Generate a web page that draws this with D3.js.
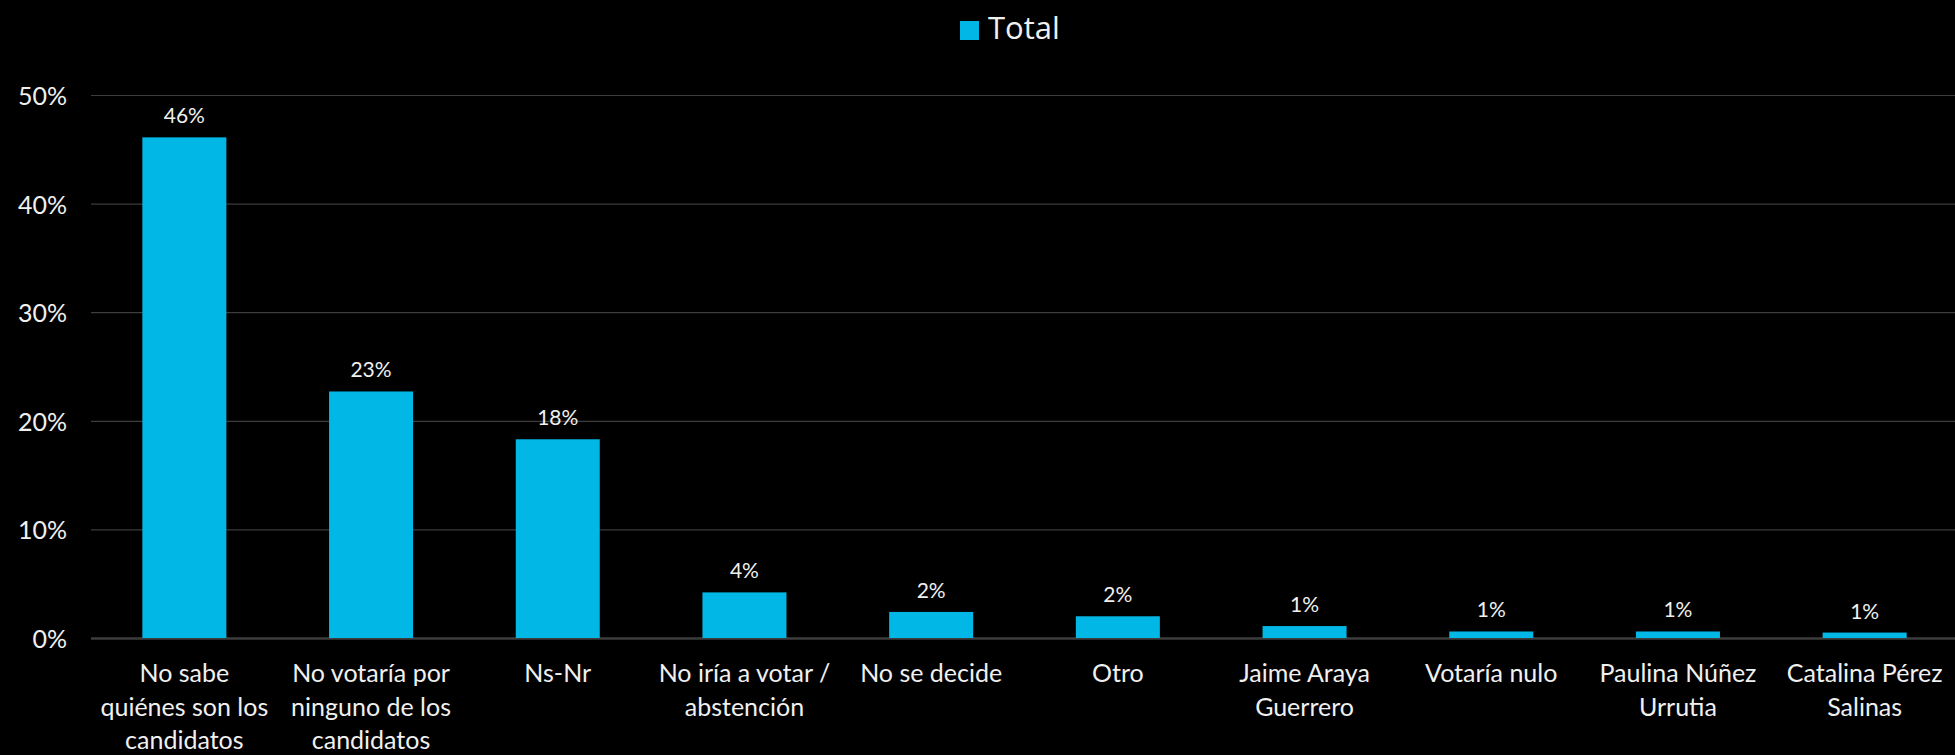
<!DOCTYPE html>
<html>
<head>
<meta charset="utf-8">
<script src="https://cdn.jsdelivr.net/npm/d3@7"></script>
<style>
  html, body { margin: 0; padding: 0; background: #000; }
  svg { display: block; }
</style>
</head>
<body>
<svg id="chart" width="1955" height="755"></svg>
<script>
// Survey answers, one bar per category ("\n" marks a line break in the axis label)
const categories = [
  "No sabe\nquiénes son los\ncandidatos",
  "No votaría por\nninguno de los\ncandidatos",
  "Ns-Nr",
  "No iría a votar /\nabstención",
  "No se decide",
  "Otro",
  "Jaime Araya\nGuerrero",
  "Votaría nulo",
  "Paulina Núñez\nUrrutia",
  "Catalina Pérez\nSalinas"
];
const seriesName = "Total";
const totalValues = [0.461, 0.227, 0.183, 0.042, 0.024, 0.020, 0.011, 0.006, 0.006, 0.005];
const yTicks = [0, 0.1, 0.2, 0.3, 0.4, 0.5];

const W = 1955, H = 755;
const margin = { left: 91, right: -3, top: 95, bottom: 117 };
const barColor = "#00b7e6";
const textColor = "#f0f0f0";
const gridColor = "#3d3d3d";

const svg = d3.select("#chart");

const x = d3.scaleBand()
  .domain(categories)
  .range([margin.left, W - margin.right])
  .paddingInner(0.55)
  .paddingOuter(0.275);

const y = d3.scaleLinear()
  .domain([0, 0.5])
  .range([H - margin.bottom, margin.top]);

const pct = v => Math.round(v * 100) + "%";

// Gridlines and y-axis labels
const yAxis = d3.axisLeft(y)
  .tickValues(yTicks)
  .tickFormat(pct)
  .tickSize(-(W - margin.right - margin.left))
  .tickPadding(24);

const gy = svg.append("g")
  .attr("transform", `translate(${margin.left},0)`)
  .call(yAxis);
gy.select(".domain").remove();
gy.selectAll(".tick line")
  .attr("stroke", gridColor)
  .attr("stroke-width", d => d === 0 ? 2.5 : 1.2);
gy.selectAll(".tick text")
  .attr("fill", textColor)
  .attr("font-family", "Lato, 'Open Sans', sans-serif")
  .attr("font-size", 25)
  .attr("dy", "0.38em");

// Bars
svg.append("g")
  .selectAll("rect")
  .data(totalValues)
  .join("rect")
  .attr("x", (d, i) => x(categories[i]))
  .attr("width", x.bandwidth())
  .attr("y", d => y(d))
  .attr("height", d => y(0) - y(d))
  .attr("fill", barColor);

// Value labels above the bars
svg.append("g")
  .selectAll("text")
  .data(totalValues)
  .join("text")
  .attr("x", (d, i) => x(categories[i]) + x.bandwidth() / 2)
  .attr("y", d => y(d) - 14)
  .attr("text-anchor", "middle")
  .attr("fill", textColor)
  .attr("font-family", "Lato, 'Open Sans', sans-serif")
  .attr("font-size", 21)
  .text(pct);

// Category labels below the baseline
const gx = svg.append("g");
categories.forEach(c => {
  const t = gx.append("text")
    .attr("x", x(c) + x.bandwidth() / 2)
    .attr("y", y(0) + 44)
    .attr("text-anchor", "middle")
    .attr("fill", textColor)
    .attr("font-family", "Lato, 'Open Sans', sans-serif")
    .attr("font-size", 25);
  c.split("\n").forEach((line, k) => {
    t.append("tspan")
      .attr("x", x(c) + x.bandwidth() / 2)
      .attr("dy", k === 0 ? 0 : 33.5)
      .text(line);
  });
});

// Legend
const legend = svg.append("g").attr("transform", "translate(960,21)");
legend.append("rect")
  .attr("width", 19)
  .attr("height", 19)
  .attr("fill", barColor);
legend.append("text")
  .attr("x", 28)
  .attr("y", 18)
  .attr("fill", textColor)
  .attr("font-family", "'Open Sans', Lato, sans-serif")
  .attr("font-size", 31)
  .text(seriesName);
</script>
</body>
</html>
